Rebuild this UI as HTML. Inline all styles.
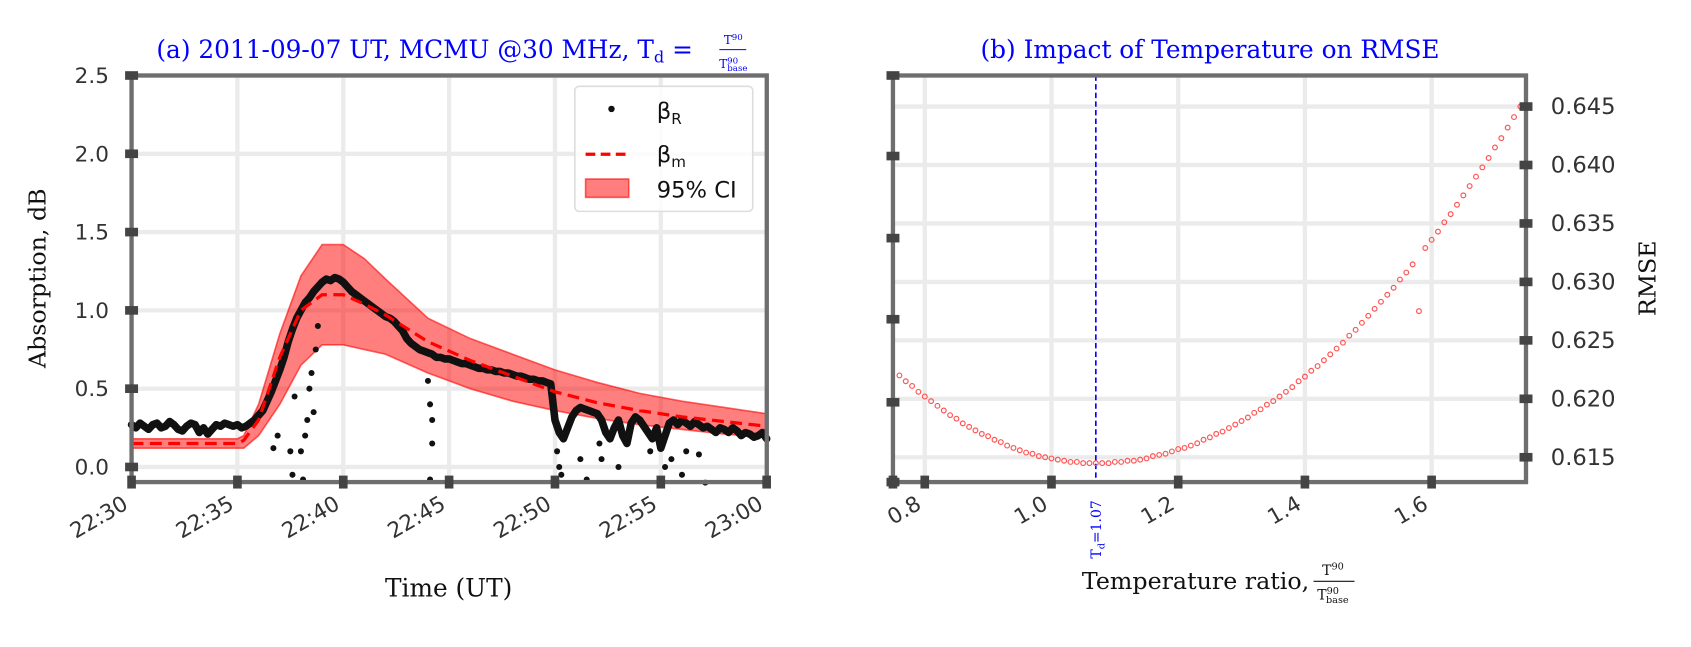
<!DOCTYPE html>
<html><head><meta charset="utf-8"><style>
html,body{margin:0;padding:0;background:#fff;}
svg text{font-family:"DejaVu Sans","Liberation Sans",sans-serif;}
.serif{font-family:"DejaVu Serif","Liberation Serif",serif !important;}
</style></head><body>
<svg id="fig" xmlns="http://www.w3.org/2000/svg" width="1691" height="642" viewBox="0 0 1568 595.3" preserveAspectRatio="none">
<rect width="1568" height="595.3" fill="#fff"/>
<g id="pa"></g>
<g id="pb"></g>
</svg>
<script>
// ---- Panel (a) data ----
const aXTicks = [0,5,10,15,20,25,30];
const aXTickLabels = ["22:30","22:35","22:40","22:45","22:50","22:55","23:00"];
const aYTicks = [0,0.5,1.0,1.5,2.0,2.5];
const aYTickLabels = ["0.0","0.5","1.0","1.5","2.0","2.5"];
const obsStep = 0.2;
const obsValues = [0.27,0.25,0.28,0.26,0.24,0.27,0.28,0.25,0.26,0.29,0.27,0.24,0.23,0.26,0.28,0.27,0.22,0.25,0.21,0.24,0.27,0.26,0.28,0.27,0.26,
0.27,0.25,0.26,0.28,0.30,0.33,0.36,0.42,0.48,0.55,
0.62,0.70,0.80,0.88,0.95,1.0,1.05,1.08,1.12,1.15,
1.18,1.20,1.19,1.21,1.20,1.18,1.15,1.12,1.10,1.08,
1.06,1.04,1.02,1.0,0.98,0.96,0.95,0.93,0.90,0.87,
0.82,0.79,0.77,0.75,0.74,0.73,0.72,0.70,0.70,0.69,
0.69,0.68,0.67,0.66,0.66,0.65,0.64,0.63,0.63,0.62,
0.62,0.61,0.61,0.60,0.60,0.59,0.58,0.58,0.57,0.56,
0.56,0.55,0.55,0.54,0.53,
0.30,0.22,0.18,0.25,0.32,0.36,0.38,0.37,0.36,0.35,
0.34,0.30,0.22,0.18,0.25,0.30,0.20,0.15,0.28,0.32,
0.30,0.26,0.22,0.18,0.25,0.12,0.20,0.28,0.30,0.27,
0.30,0.28,0.26,0.29,0.27,0.25,0.26,0.24,0.22,0.25,
0.24,0.22,0.25,0.23,0.20,0.22,0.21,0.19,0.20,0.22,0.18];
const outT = [6.7,6.9,7.5,7.6,7.7,8.0,8.1,8.2,8.3,8.4,8.5,8.6,8.7,8.8,14.0,14.1,14.2,14.2,14.1,20.1,20.2,20.3,21.2,21.5,22.1,22.2,23.0,24.5,25.2,25.5,26.0,26.2,26.8,27.1];
const outV = [0.12,0.2,0.1,-0.05,0.45,0.1,-0.08,0.2,0.3,0.5,0.6,0.35,0.75,0.9,0.55,0.4,0.3,0.15,-0.08,0.1,0.0,-0.05,0.05,-0.08,0.15,0.05,0.0,0.1,0.0,0.05,-0.05,0.1,0.08,-0.1];
const modT = [0,5,5.3,6,7,8,9,10,11,12,14,16,18,20,22,24,26,28,30];
const modV = [0.15,0.15,0.17,0.3,0.7,1.0,1.1,1.1,1.04,0.97,0.8,0.68,0.58,0.48,0.41,0.36,0.32,0.29,0.26];
const ciUp = [0.18,0.18,0.2,0.4,0.85,1.22,1.42,1.42,1.33,1.2,0.95,0.82,0.72,0.62,0.54,0.47,0.42,0.38,0.34];
const ciLo = [0.12,0.12,0.12,0.2,0.4,0.65,0.78,0.78,0.75,0.72,0.6,0.5,0.42,0.36,0.31,0.27,0.24,0.21,0.19];
// ---- Panel (b) data ----
const bXTicks = [0.8,1.0,1.2,1.4,1.6];
const bXTickLabels = ["0.8","1.0","1.2","1.4","1.6"];
const bYTicks = [0.615,0.620,0.625,0.630,0.635,0.640,0.645];
const bYTickLabels = ["0.615","0.620","0.625","0.630","0.635","0.640","0.645"];
const ratioStart = 0.76, ratioStep = 0.01;
const rmse = [0.6220,0.6215,0.6211,0.6206,0.6202,0.6198,0.6194,0.6190,0.6186,0.6183,0.6179,0.6176,0.6173,0.6170,0.6168,0.6165,0.6163,0.6160,0.6158,0.6156,0.6154,0.6153,0.6151,0.6150,0.6149,0.6148,0.6147,0.6146,0.6146,0.6145,0.6145,0.6145,
0.6145,0.6145,0.6146,0.6146,0.6147,0.6147,0.6148,0.6149,0.6151,0.6152,0.6153,0.6155,0.6157,0.6158,0.6160,0.6162,0.6165,0.6167,0.6170,0.6172,0.6175,0.6178,0.6181,0.6184,0.6188,0.6191,0.6195,0.6198,0.6202,0.6206,0.6210,0.6215,0.6219,0.6224,0.6228,0.6233,0.6238,0.6243,0.6248,0.6254,0.6259,0.6265,0.6271,0.6277,0.6283,0.6289,0.6295,0.6302,0.6308,0.6315,0.6322,0.6329,0.6336,0.6343,0.6351,0.6358,0.6366,0.6374,0.6382,0.6390,0.6398,0.6406,0.6415,0.6423,0.6432,0.6441,0.6450];
const outlierRatio = [1.58];
const outlierRmse = [0.6275];
const tdValue = 1.07;

const NS="http://www.w3.org/2000/svg";
function mk(parent,tag,attrs,text){const e=document.createElementNS(NS,tag);for(const k in attrs)e.setAttribute(k,attrs[k]);if(text!==undefined)e.textContent=text;parent.appendChild(e);return e;}
const GRID="#ebebeb", SPINE="#6e6e6e", TICK="#444";

// ===== Panel A =====
const pa=document.getElementById('pa');
const ax=t=>122+t*19.63, ay=v=>433-v*145.2;
const AL=122,AR=711,AT=70,AB=447;
aXTicks.forEach(t=>{const l=mk(pa,'line',{x1:ax(t),x2:ax(t),y1:AT,y2:AB,stroke:GRID,'stroke-width':4});

});
aYTicks.forEach(v=>{const l=mk(pa,'line',{x1:AL,x2:AR,y1:ay(v),y2:ay(v),stroke:GRID,'stroke-width':4});

});
let pts=modT.map((t,i)=>ax(t)+','+ay(ciUp[i])).concat(modT.slice().reverse().map((t,j)=>{const i=modT.length-1-j;return ax(t)+','+ay(ciLo[i]);}));
const band=mk(pa,'polygon',{points:pts.join(' '),fill:'rgba(255,0,0,0.5)',stroke:'rgba(255,0,0,0.6)','stroke-width':1.5});


const og=mk(pa,'g',{});


mk(og,'polyline',{points:obsValues.map((v,i)=>ax(i*obsStep)+','+ay(v)).join(' '),fill:'none',stroke:'#111','stroke-width':7,'stroke-linejoin':'round','stroke-linecap':'round'});
obsValues.forEach((v,i)=>{const c=mk(og,'circle',{cx:ax(i*obsStep),cy:ay(v),r:3.2,fill:'#111'});

});
outT.forEach((t,i)=>{const c=mk(og,'circle',{cx:ax(t),cy:ay(outV[i]),r:2.8,fill:'#111'});

});
const ml=mk(pa,'polyline',{points:modT.map((t,i)=>ax(t)+','+ay(modV[i])).join(' '),fill:'none',stroke:'#f00','stroke-width':3,'stroke-dasharray':'11,6'});


const sa=mk(pa,'rect',{x:AL,y:AT,width:AR-AL,height:AB-AT,fill:'none',stroke:SPINE,'stroke-width':4});


aYTicks.forEach((v,i)=>{mk(pa,'rect',{x:AL-6,y:ay(v)-4,width:12,height:8,fill:TICK});
const tx=mk(pa,'text',{x:101,y:ay(v)+7,'text-anchor':'end','font-size':20,fill:'#333'},aYTickLabels[i]);

});
aXTicks.forEach((t,i)=>{mk(pa,'rect',{x:ax(t)-4,y:AB-6,width:8,height:12,fill:TICK});
const tx=mk(pa,'text',{x:ax(t)-2,y:AB+24,'text-anchor':'end','font-size':20,fill:'#333',transform:`rotate(-30 ${ax(t)-2} ${AB+24})`},aXTickLabels[i]);

});
let t;
t=mk(pa,'text',{x:145,y:54,'font-size':23,fill:'#00f',class:'serif'});
t.innerHTML='(a) 2011-09-07 UT, MCMU @30 MHz, T<tspan font-size="15" dy="4">d</tspan><tspan dy="-4"> = </tspan>';


t=mk(pa,'text',{x:0,y:0,class:'serif','font-size':11,fill:'#00f'});
t.innerHTML='<tspan x="680" y="41" text-anchor="middle">T<tspan font-size="8" dy="-4">90</tspan></tspan><tspan x="680" y="63" text-anchor="middle">T<tspan font-size="8" dy="-4">90</tspan><tspan font-size="8" dy="7" dx="-10">base</tspan></tspan>';


mk(pa,'line',{x1:667,x2:692,y1:46,y2:46,stroke:'#00f','stroke-width':1});
t=mk(pa,'text',{x:42,y:258,'text-anchor':'middle','font-size':22,fill:'#111',class:'serif',transform:'rotate(-90 42 258)'},'Absorption, dB');


t=mk(pa,'text',{x:416,y:553,'text-anchor':'middle','font-size':23,fill:'#111',class:'serif'},'Time (UT)');


const lg=mk(pa,'g',{});


mk(lg,'rect',{x:533,y:80,width:165,height:116,rx:4,fill:'#fff','fill-opacity':0.85,stroke:'#ddd','stroke-width':1.5});
mk(lg,'circle',{cx:567,cy:101,r:3,fill:'#111'});
t=mk(lg,'text',{x:609,y:110,'font-size':21,fill:'#111'});t.innerHTML='β<tspan font-size="14" dy="5">R</tspan>';


mk(lg,'line',{x1:543,x2:584,y1:143,y2:143,stroke:'#f00','stroke-width':3,'stroke-dasharray':'9,5'});
t=mk(lg,'text',{x:609,y:150,'font-size':21,fill:'#111'});t.innerHTML='β<tspan font-size="14" dy="5">m</tspan>';


mk(lg,'rect',{x:543,y:166,width:40,height:17,fill:'rgba(255,0,0,0.5)',stroke:'rgba(255,0,0,0.6)','stroke-width':1.5});
t=mk(lg,'text',{x:609,y:183,'font-size':21,fill:'#111'},'95% CI');



// ===== Panel B =====
const pb=document.getElementById('pb');
const bx=r=>975+(r-1.0)*587.5, by=v=>424-(v-0.615)/0.005*54.2;
const BL=828,BR=1415,BT=70,BB=447;
bXTicks.forEach(r=>{const l=mk(pb,'line',{x1:bx(r),x2:bx(r),y1:BT,y2:BB,stroke:GRID,'stroke-width':4});

});
bYTicks.forEach(v=>{const l=mk(pb,'line',{x1:BL,x2:BR,y1:by(v),y2:by(v),stroke:GRID,'stroke-width':4});

});
const vl=mk(pb,'line',{x1:bx(tdValue),x2:bx(tdValue),y1:BT,y2:BB,stroke:'#00f','stroke-width':1.5,'stroke-dasharray':'5,3'});


rmse.forEach((v,i)=>{const r=ratioStart+i*ratioStep;if(Math.abs(r-1.58)<0.001)return;
const c=mk(pb,'circle',{cx:bx(r),cy:by(v),r:2.2,fill:'none',stroke:'#f55','stroke-width':1.1});

});
outlierRatio.forEach((r,i)=>{const c=mk(pb,'circle',{cx:bx(r),cy:by(outlierRmse[i]),r:2.2,fill:'none',stroke:'#f55','stroke-width':1.1});

});
const sb=mk(pb,'rect',{x:BL,y:BT,width:BR-BL,height:BB-BT,fill:'none',stroke:SPINE,'stroke-width':4});


[70,144.7,220.8,296,373,447].forEach(y=>mk(pb,'rect',{x:BL-6,y:y-4,width:12,height:8,fill:TICK}));
bYTicks.forEach((v,i)=>{mk(pb,'rect',{x:BR-6,y:by(v)-4,width:12,height:8,fill:TICK});
const tx=mk(pb,'text',{x:1438,y:by(v)+7,'font-size':21,fill:'#333'},bYTickLabels[i]);

});
bXTicks.forEach((r,i)=>{mk(pb,'rect',{x:bx(r)-4,y:BB-6,width:8,height:12,fill:TICK});
const tx=mk(pb,'text',{x:bx(r)-2,y:BB+24,'text-anchor':'end','font-size':20,fill:'#333',transform:`rotate(-30 ${bx(r)-2} ${BB+24})`},bXTickLabels[i]);

});
mk(pb,'rect',{x:BL-4,y:BB-6,width:8,height:12,fill:TICK});
t=mk(pb,'text',{x:1122,y:54,'text-anchor':'middle','font-size':23,fill:'#00f',class:'serif'},'(b) Impact of Temperature on RMSE');


t=mk(pb,'text',{x:1535,y:258,'text-anchor':'middle','font-size':22,fill:'#111',class:'serif',transform:'rotate(-90 1535 258)'},'RMSE');


t=mk(pb,'text',{x:1214,y:546,'text-anchor':'end','font-size':22,fill:'#111',class:'serif'},'Temperature ratio,');


t=mk(pb,'text',{x:0,y:0,class:'serif','font-size':13,fill:'#111'});
t.innerHTML='<tspan x="1236" y="533" text-anchor="middle">T<tspan font-size="9" dy="-5">90</tspan></tspan><tspan x="1236" y="556" text-anchor="middle">T<tspan font-size="9" dy="-5">90</tspan><tspan font-size="9" dy="8" dx="-12">base</tspan></tspan>';


mk(pb,'line',{x1:1218,x2:1256,y1:539,y2:539,stroke:'#111','stroke-width':1});
t=mk(pb,'text',{x:1021,y:518,'font-size':13,fill:'#00f',class:'serif',transform:'rotate(-90 1021 518)'});
t.innerHTML='T<tspan font-size="9" dy="3">d</tspan><tspan dy="-3">=1.07</tspan>';


</script>
</body></html>
